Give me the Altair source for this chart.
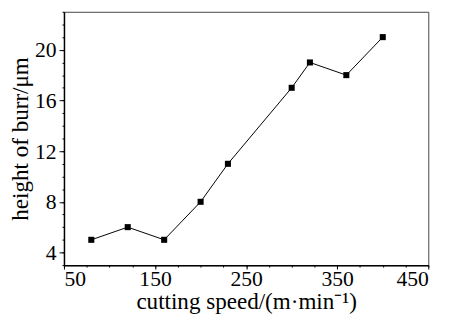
import altair as alt
import pandas as pd

speed = [80, 120, 160, 200, 230, 300, 320, 360, 400]
burr = [5, 6, 5, 8, 11, 17, 19, 18, 21]

x_major = [50, 150, 250, 350, 450]
x_minor = list(range(50, 451, 25))
y_major = [4, 8, 12, 16, 20]
y_minor = list(range(3, 24, 1))

df = pd.DataFrame({"speed": speed, "burr": burr})

FONT = "Liberation Serif"
xs = alt.Scale(domain=[50, 450], nice=False, zero=False)
ys = alt.Scale(domain=[3, 23], nice=False, zero=False)

x_axis = alt.Axis(
    values=x_major, tickSize=4, labelPadding=0,
    labelFont=FONT, labelFontSize=22,
    title="cutting speed/(m·min⁻¹)",
    titleFont=FONT, titleFontSize=23.5, titleFontWeight="normal",
    titlePadding=0,
)
y_axis = alt.Axis(
    values=y_major, tickSize=5, labelPadding=3,
    labelFont=FONT, labelFontSize=22,
    title="height of burr/μm",
    titleFont=FONT, titleFontSize=23.5, titleFontWeight="normal",
    titlePadding=2,
)

main = alt.Chart(df).mark_line(
    color="black", strokeWidth=1,
    point=alt.OverlayMarkDef(shape="square", filled=True, color="black", size=38, opacity=1),
).encode(
    x=alt.X("speed:Q", scale=xs, axis=x_axis),
    y=alt.Y("burr:Q", scale=ys, axis=y_axis),
)

minor = alt.Chart(df).mark_point(opacity=0).encode(
    x=alt.X("speed:Q", scale=xs, axis=alt.Axis(values=x_minor, labels=False, tickSize=2, domain=False, title=None, orient="bottom")),
    y=alt.Y("burr:Q", scale=ys, axis=alt.Axis(values=y_minor, labels=False, tickSize=2, domain=False, title=None, orient="left")),
)

chart = alt.layer(main, minor).resolve_axis(x="independent", y="independent").properties(
    width=371, height=258,
    autosize=alt.AutoSizeParams(type="none"),
    padding={"left": 57, "top": 1, "right": 17, "bottom": 53},
).configure_view(stroke="#444", strokeWidth=1).configure_axis(
    tickColor="black", tickWidth=1,
    domainColor="black", domainWidth=1.5,
    grid=False,
)

chart.save("out.html", embed_options={"renderer": "svg", "actions": False})
